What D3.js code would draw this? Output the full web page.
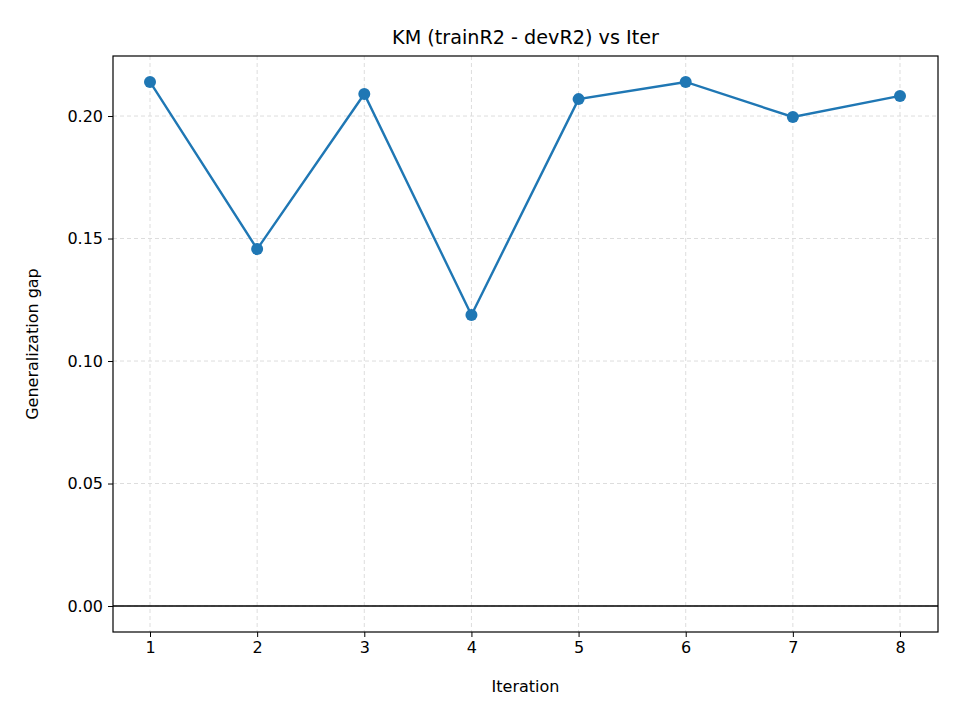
<!DOCTYPE html>
<html>
<head>
<meta charset="utf-8">
<script src="https://cdn.jsdelivr.net/npm/d3@7.9.0/dist/d3.min.js"></script>
<style>
  body { margin: 0; background: #fff; }
  text { font-family: "DejaVu Sans", sans-serif; }
</style>
</head>
<body>
<svg width="960" height="720"></svg>
<script>
// data
const iterations = [1, 2, 3, 4, 5, 6, 7, 8];
const gapValues = [0.2139, 0.1457, 0.2090, 0.1188, 0.2069, 0.2139, 0.1996, 0.2082];
const yTicks = [0.00, 0.05, 0.10, 0.15, 0.20];

const svg = d3.select('svg');
const plotL = 113, plotR = 938, plotT = 56, plotB = 632;

const x = d3.scaleLinear().domain([0.6546, 8.3547]).range([plotL, plotR]);
const y = d3.scaleLinear().domain([-0.0106, 0.2245]).range([plotB, plotT]);

// grid
svg.append('g').selectAll('line').data(iterations).join('line')
  .attr('x1', d => x(d)).attr('x2', d => x(d))
  .attr('y1', plotT).attr('y2', plotB)
  .attr('stroke', '#dddddd').attr('stroke-dasharray', '4,3');
svg.append('g').selectAll('line').data(yTicks).join('line')
  .attr('x1', plotL).attr('x2', plotR)
  .attr('y1', d => y(d)).attr('y2', d => y(d))
  .attr('stroke', '#dddddd').attr('stroke-dasharray', '4,3');

// zero line
svg.append('line')
  .attr('x1', plotL).attr('x2', plotR)
  .attr('y1', y(0)).attr('y2', y(0))
  .attr('stroke', '#000').attr('stroke-width', 1.5);

// axes
const xAxis = svg.append('g').attr('transform', `translate(0,${plotB})`)
  .call(d3.axisBottom(x).tickValues(iterations).tickFormat(d3.format('d')).tickSize(5).tickPadding(5));
const yAxis = svg.append('g').attr('transform', `translate(${plotL},0)`)
  .call(d3.axisLeft(y).tickValues(yTicks).tickFormat(d3.format('.2f')).tickSize(5).tickPadding(5));
[xAxis, yAxis].forEach(a => {
  a.select('.domain').remove();
  a.selectAll('text').attr('font-size', 16).attr('fill', '#000').style('font-family', 'DejaVu Sans');
  a.selectAll('line').attr('stroke', '#000');
});

// frame
svg.append('rect').attr('x', plotL).attr('y', plotT)
  .attr('width', plotR - plotL).attr('height', plotB - plotT)
  .attr('fill', 'none').attr('stroke', '#000').attr('stroke-width', 1.2);

// line + points
const pts = iterations.map((d, i) => [d, gapValues[i]]);
svg.append('path').datum(pts)
  .attr('d', d3.line().x(d => x(d[0])).y(d => y(d[1])))
  .attr('fill', 'none').attr('stroke', '#1f77b4').attr('stroke-width', 2.4);
svg.append('g').selectAll('circle').data(pts).join('circle')
  .attr('cx', d => x(d[0])).attr('cy', d => y(d[1])).attr('r', 6)
  .attr('fill', '#1f77b4');

// labels
svg.append('text').attr('x', (plotL + plotR) / 2).attr('y', 44)
  .attr('text-anchor', 'middle').attr('font-size', 19.2).text('KM (trainR2 - devR2) vs Iter');
svg.append('text').attr('x', (plotL + plotR) / 2).attr('y', 692)
  .attr('text-anchor', 'middle').attr('font-size', 16).text('Iteration');
svg.append('text').attr('transform', `translate(38,${(plotT + plotB) / 2}) rotate(-90)`)
  .attr('text-anchor', 'middle').attr('font-size', 16).text('Generalization gap');
</script>
</body>
</html>
